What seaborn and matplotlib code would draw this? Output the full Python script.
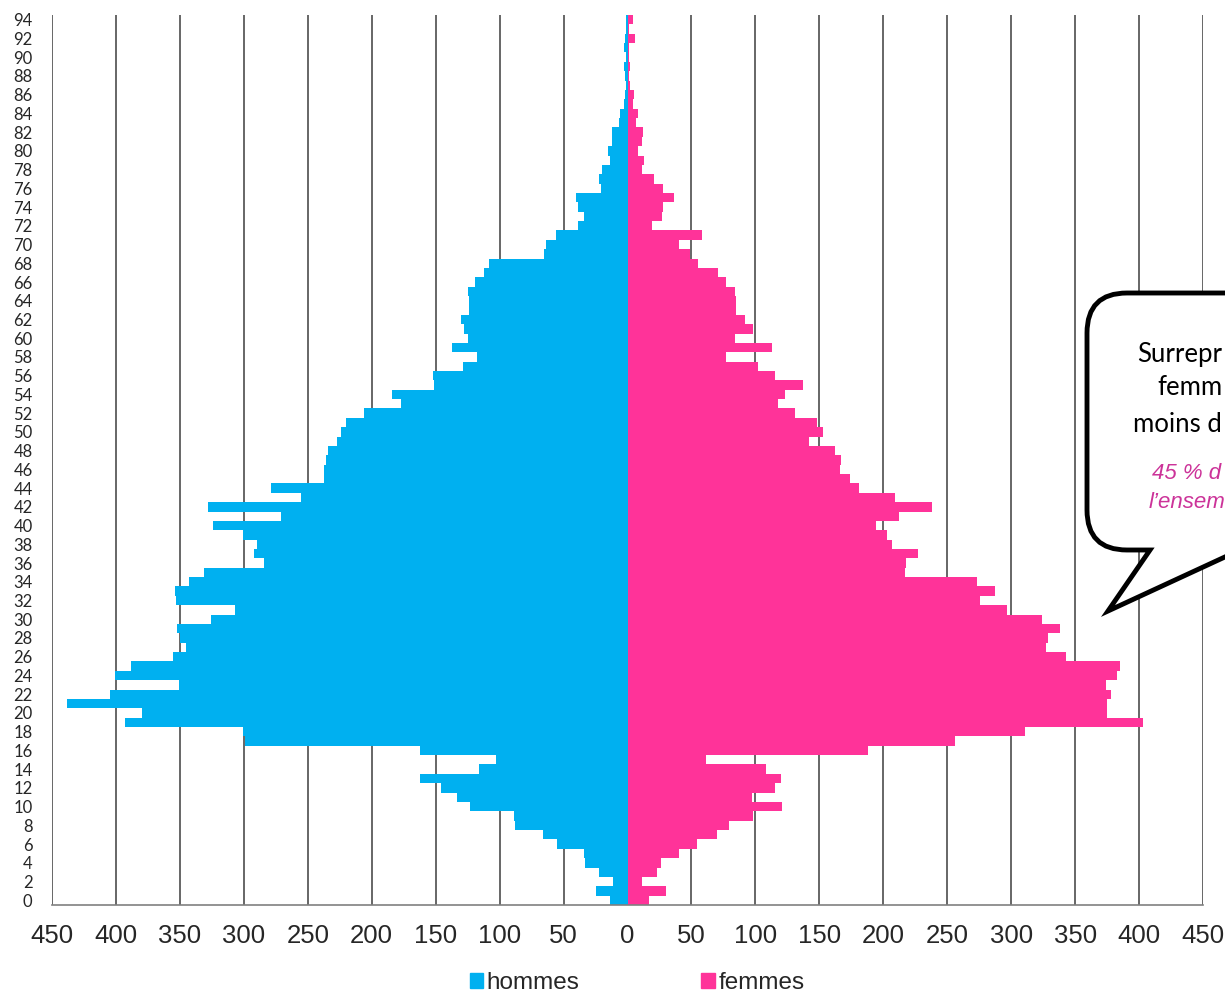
import matplotlib
matplotlib.use("Agg")
import matplotlib.pyplot as plt
import pandas as pd
import seaborn as sns
from matplotlib.path import Path
from matplotlib.patches import PathPatch, Patch

# ================================
# DATA (read from the reference pyramid)
# ================================
ages = list(range(95))

hommes = [14, 25, 11, 22, 33, 34, 55, 66, 88, 89,
          123, 133, 146, 162, 116, 103, 162, 299, 301, 393,
          380, 438, 405, 351, 401, 388, 355, 345, 350, 352,
          326, 307, 353, 354, 343, 331, 284, 292, 290, 301,
          324, 271, 328, 255, 279, 237, 237, 236, 234, 227,
          224, 220, 206, 177, 184, 151, 152, 129, 118, 137,
          125, 128, 130, 124, 124, 125, 119, 112, 108, 65,
          64, 56, 39, 34, 39, 40, 21, 22, 20, 14,
          15, 12, 12, 7, 6, 3, 2, 1, 2, 3,
          1, 3, 2, 1, 1]

femmes = [17, 30, 11, 23, 26, 40, 54, 70, 79, 98,
          121, 97, 115, 120, 108, 61, 188, 256, 311, 403,
          375, 375, 378, 374, 383, 385, 343, 327, 329, 338,
          324, 297, 276, 287, 273, 217, 218, 227, 207, 203,
          194, 212, 238, 209, 181, 174, 166, 167, 162, 142,
          153, 148, 131, 118, 123, 137, 115, 102, 77, 113,
          84, 98, 92, 85, 85, 84, 77, 71, 55, 49,
          40, 58, 19, 27, 28, 36, 28, 21, 11, 13,
          8, 11, 12, 7, 8, 4, 5, 2, 1, 2,
          1, 1, 6, 1, 4]

x_ticks = list(range(-450, 451, 50))
y_ticks = list(range(0, 95, 2))

# visible part of the callout text (the bubble runs off the right edge)
callout_black = ["Surrepr", "femm", "moins d"]
callout_pink = ["45 % d", "l’ensem"]

colors = {"hommes": "#00B0F0", "femmes": "#FF3399"}

df = pd.DataFrame({
    "age": ages + ages,
    "effectif": [-v for v in hommes] + femmes,
    "sexe": ["hommes"] * len(ages) + ["femmes"] * len(ages),
})

# ================================
# STYLE
# ================================
sns.set_style("white")
plt.rcParams["font.family"] = ["Liberation Sans", "DejaVu Sans"]

W, H = 1225, 992


def fx(x):
    return x / W


def fy(y):
    return 1 - y / H


fig = plt.figure(figsize=(W / 100, H / 100), dpi=100)
ax = fig.add_axes([fx(52), fy(905), (1203 - 52) / W, (905 - 15) / H])

# ================================
# PYRAMID
# ================================
sns.barplot(data=df, x="effectif", y="age", hue="sexe", orient="h",
            native_scale=True, dodge=False, width=1, palette=colors,
            saturation=1, errorbar=None, linewidth=0, legend=False, ax=ax)

ax.set_xlim(-450, 450)
ax.set_ylim(-0.5, 94.5)
ax.set_xticks(x_ticks)
ax.set_xticklabels([str(abs(v)) for v in x_ticks], fontsize=18.5)
ax.set_yticks(y_ticks)
ax.set_yticklabels([str(v) for v in y_ticks], fontsize=12,
                   family=["Lato", "DejaVu Sans"])
ax.tick_params(axis="y", length=0, pad=14)
ax.tick_params(axis="x", length=0, pad=14)
ax.set_xlabel("")
ax.set_ylabel("")

for s in ["top", "right", "left"]:
    ax.spines[s].set_visible(False)
ax.spines["bottom"].set_color("#808080")
ax.spines["bottom"].set_linewidth(1.2)

ax.set_axisbelow(True)
ax.xaxis.grid(True, color="#4d4d4d", linewidth=1.2)
ax.yaxis.grid(False)

# ================================
# LEGEND
# ================================
handles = [Patch(color=colors["hommes"], label="hommes"),
           Patch(color=colors["femmes"], label="femmes")]
fig.legend(handles=handles, loc="center", bbox_to_anchor=(fx(637), fy(983)),
           ncol=2, frameon=False, fontsize=17.5, handlelength=0.55,
           handleheight=0.55, handletextpad=0.15, columnspacing=5.0)

# ================================
# CALLOUT BUBBLE (cut by the right edge)
# ================================
pts = [(1150, 550), (1108, 611), (1240, 550), (1400, 550), (1400, 293),
       (1127, 293), (1087, 293), (1087, 333), (1087, 510), (1087, 550),
       (1127, 550), (1150, 550), (1150, 550)]
codes = [Path.MOVETO, Path.LINETO, Path.LINETO, Path.LINETO, Path.LINETO,
         Path.LINETO, Path.CURVE3, Path.CURVE3, Path.LINETO, Path.CURVE3,
         Path.CURVE3, Path.LINETO, Path.CLOSEPOLY]
bubble = Path([(fx(x), fy(y)) for x, y in pts], codes)
fig.add_artist(PathPatch(bubble, facecolor="white", edgecolor="black",
                         linewidth=3.5, transform=fig.transFigure, zorder=5))

for txt, x, y in zip(callout_black, [1137, 1157, 1133], [362, 395, 432]):
    fig.text(fx(x), fy(y), txt, ha="left", va="baseline", fontsize=18.5,
             family=["Lato", "DejaVu Sans"], color="black", zorder=6)

for txt, x, y in zip(callout_pink, [1152, 1149], [479, 508]):
    fig.text(fx(x), fy(y), txt, ha="left", va="baseline", fontsize=16,
             style="italic", color="#CC3399", zorder=6)

fig.savefig("out.png", dpi=100)
